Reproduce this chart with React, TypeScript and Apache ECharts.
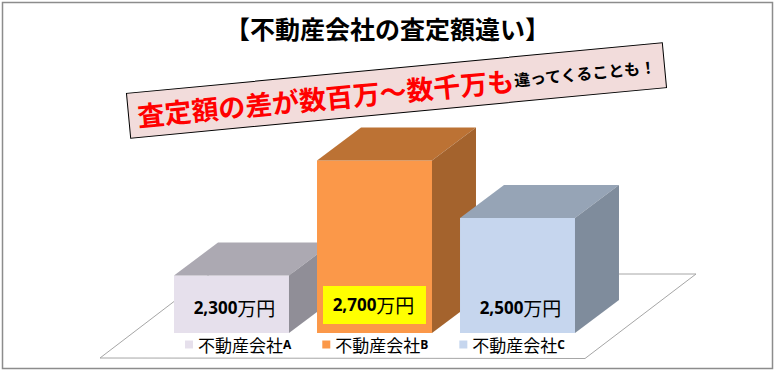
import React, { useEffect, useRef } from "react";
import * as echarts from "echarts";

const titleText = "【不動産会社の査定額違い】";
const bannerRed = "査定額の差が数百万～数千万も";
const bannerBlack = "違ってくることも！";
const categories = ["A", "B", "C"];
const companies = ["不動産会社A", "不動産会社B", "不動産会社C"];
const values = [2300, 2700, 2500];
const frontColors = ["#E6E0EC", "#FB9849", "#C6D6EE"];
const topColors = ["#ACA9B2", "#BC7234", "#96A4B6"];
const sideColors = ["#908E97", "#A4632D", "#7F8C9C"];
const FONT = '"Noto Sans CJK JP"';

export default function App() {
  const ref = useRef<HTMLDivElement>(null);
  useEffect(() => {
    document.body.style.margin = "0";
    const chart = echarts.init(ref.current!, undefined, { renderer: "svg" });
    const series = companies.map((name, i) => ({
      type: "custom",
      name,
      z: 3,
      itemStyle: { color: frontColors[i] },
      encode: { x: 0, y: 1 },
      data: [[categories[i], values[i]]],
      renderItem: (_: any, api: any) => {
        const top = api.coord([api.value(0), api.value(1)]);
        const base = api.coord([api.value(0), 2100]);
        const w = api.size([1, 0])[0] * 0.804;
        const dx = 44, dy = -33;
        const l = top[0] - w / 2, r = top[0] + w / 2, t = top[1], b = base[1];
        const label = values[i].toLocaleString("en-US");
        const highlighted = i === 1;
        const labelY = highlighted ? b - 29 : b - 26;
        const children: any[] = [
          { type: "polygon", shape: { points: [[l, b], [r, b], [r, t], [l, t]] }, style: { fill: frontColors[i] } },
          { type: "polygon", shape: { points: [[l, t], [r, t], [r + dx, t + dy], [l + dx, t + dy]] }, style: { fill: topColors[i] } },
          { type: "polygon", shape: { points: [[r, t], [r + dx, t + dy], [r + dx, b + dy], [r, b]] }, style: { fill: sideColors[i] } },
        ];
        if (highlighted) {
          children.push({ type: "rect", shape: { x: l + 6, y: b - 47, width: w - 12, height: 38 }, style: { fill: "#FFFF00" } });
        }
        children.push({
          type: "text",
          style: {
            x: top[0] + (highlighted ? -1 : 3),
            y: labelY,
            align: "center",
            verticalAlign: "middle",
            text: `{d|${label}}{u|万円}`,
            rich: {
              d: { fontFamily: '"Open Sans"', fontWeight: 700, fontSize: 17, fill: "#000" },
              u: { fontFamily: FONT, fontSize: 19, fill: "#000" },
            },
          },
        });
        return { type: "group", children };
      },
    }));
    chart.setOption({
      animation: false,
      backgroundColor: "#fff",
      title: {
        text: titleText,
        left: "center",
        top: 10,
        textStyle: { fontFamily: FONT, fontSize: 25, fontWeight: 700, color: "#000" },
      },
      grid: { left: 160, width: 429, top: 103, height: 230 },
      xAxis: { type: "category", data: categories, show: false },
      yAxis: { type: "value", min: 2100, max: 2900, show: false },
      legend: {
        left: 180,
        top: 331,
        icon: "rect",
        itemWidth: 8,
        itemHeight: 8,
        itemGap: 31,
        selectedMode: false,
        data: companies,
        formatter: (n: string) => `{a|${n.slice(0, -1)}}{b|${n.slice(-1)}}`,
        textStyle: {
          rich: {
            a: { fontFamily: FONT, fontSize: 17, color: "#000" },
            b: { fontFamily: '"Open Sans"', fontSize: 12, fontWeight: 700, color: "#000" },
          },
        },
      },
      graphic: [
        { type: "rect", z: 0, shape: { x: 2.5, y: 2.5, width: 770, height: 366 }, style: { fill: "#fff", stroke: "#8C8C8C", lineWidth: 1.5 } },
        { type: "polygon", z: 1, shape: { points: [[100, 358], [585, 358.5], [696, 274], [210, 274]] }, style: { fill: "#fff", stroke: "#A6A6A6", lineWidth: 1 } },
        {
          type: "group",
          z: 10,
          x: 396.5,
          y: 90.5,
          rotation: (5.4 * Math.PI) / 180,
          children: [
            { type: "rect", z: 10, shape: { x: -269, y: -22.5, width: 538, height: 45 }, style: { fill: "#F2DCDB", stroke: "#000", lineWidth: 1 } },
            {
              type: "text",
              z: 11,
              style: {
                x: -260,
                y: 0,
                align: "left",
                verticalAlign: "middle",
                text: `{r|${bannerRed}}{k|${bannerBlack}}`,
                rich: {
                  r: { fontFamily: FONT, fontSize: 27, fontWeight: 700, fill: "#FF0000" },
                  k: { fontFamily: FONT, fontSize: 16, fontWeight: 700, fill: "#000" },
                },
              },
            },
          ],
        },
      ],
      series,
    });
    return () => chart.dispose();
  }, []);
  return <div ref={ref} style={{ width: 775, height: 372 }} />;
}
